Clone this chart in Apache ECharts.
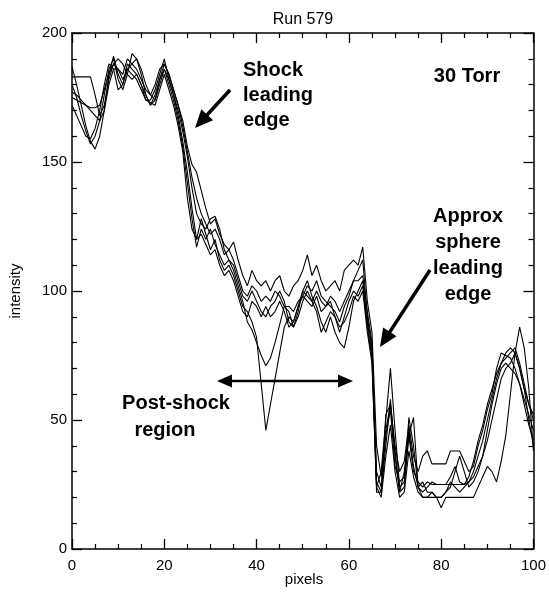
<!DOCTYPE html>
<html>
<head>
<meta charset="utf-8">
<script src="https://cdn.jsdelivr.net/npm/echarts@6/dist/echarts.min.js"></script>
<style>
html,body{margin:0;padding:0;background:#fff;}
#c{width:549px;height:592px;}
</style>
</head>
<body>
<div id="c"></div>
<script>
// pixel index 0..100
var pixels = [];
for (var i = 0; i <= 100; i++) pixels.push(i);

var xTicks = [0, 20, 40, 60, 80, 100];
var yTicks = [0, 50, 100, 150, 200];

var profile1 = [183,183,183,183,183,176,168,172,182,188, 186,184,190,188,186,182,178,176,180,186, 188,184,178,172,166,156,149,146,139,132, 126,128,122,118,116,119,112,106,102,108, 104,102,104,100,104,106,100,98,102,104, 108,114,106,110,104,100,102,104,100,108, 110,112,110,117,96,84,40,28,46,56, 40,30,34,48,36,30,36,38,33,33, 33,33,38,38,38,34,30,32,40,46, 54,60,70,76,75,74,70,64,58,52, 46];
var profile2 = [187,180,172,164,158,155,160,170,184,191, 184,180,186,184,182,178,174,174,178,184, 190,182,176,168,158,146,132,120,128,122, 116,120,112,108,110,106,100,94,92,88, 82,64,46,56,66,76,86,90,88,94, 100,98,96,100,96,94,98,96,92,96, 100,104,104,106,92,80,26,22,40,58, 36,22,30,46,32,24,26,22,22,20, 20,22,26,24,22,24,26,30,36,42, 50,58,66,72,74,76,78,72,64,56, 50];
var profile3 = [180,175,168,162,157,160,166,176,186,190, 182,178,184,192,190,184,176,172,176,182, 186,180,174,166,156,142,128,117,124,120, 124,118,114,110,112,108,102,96,88,85, 80,75,71,74,80,87,94,94,92,96, 98,102,100,104,98,96,94,92,88,94, 98,104,108,112,90,78,24,30,50,70, 46,24,26,51,40,24,22,24,26,25, 25,25,28,32,26,25,26,28,32,36, 42,50,58,66,70,72,76,70,62,56, 52];
var profile4 = [177,176,174,172,170,168,166,170,180,186, 186,182,186,188,190,186,180,176,174,182, 188,184,178,172,164,154,144,136,130,126, 122,124,120,114,116,112,106,100,98,102, 100,96,98,96,100,98,94,92,86,92, 100,104,98,94,88,84,90,84,80,78, 86,96,100,104,88,76,30,24,44,54, 32,26,28,44,30,26,24,26,25,25, 25,25,25,25,25,25,28,34,42,48, 56,62,68,72,76,78,76,70,62,50, 40];
var profile5 = [175,174,173,172,171,171,172,178,184,188, 190,188,184,182,184,180,176,172,174,180, 186,182,176,170,162,152,140,130,126,124, 128,129,124,116,112,110,104,98,96,100, 96,92,90,94,96,100,96,88,86,90, 96,100,96,92,84,88,92,90,84,90, 96,100,98,102,86,74,22,22,52,56, 38,22,24,44,51,24,20,20,20,20, 16,20,20,20,20,20,20,20,24,28, 32,30,26,34,44,60,76,86,78,62, 38];
var profile6 = [172,168,164,160,159,163,170,180,188,186, 178,180,188,186,184,180,174,173,172,178, 184,178,172,164,154,136,124,120,122,118, 114,116,110,106,108,104,98,92,90,96, 94,90,94,90,92,96,92,86,88,94, 98,96,94,98,92,94,96,90,86,88, 92,98,96,100,84,72,24,20,36,48, 30,20,22,38,28,22,20,20,22,20, 20,22,24,30,36,30,24,26,30,36, 46,56,64,70,72,70,68,64,56,48, 42];

var profiles = [profile1, profile2, profile3, profile4, profile5, profile6];

var FONT = 'Liberation Sans, Arial, Helvetica, sans-serif';

function arrow(x1, y1, x2, y2, w, hl, hw) {
  var dx = x2 - x1, dy = y2 - y1, L = Math.sqrt(dx*dx + dy*dy);
  var ux = dx / L, uy = dy / L, px = -uy, py = ux;
  var bx = x2 - ux * hl, by = y2 - uy * hl;
  return [
    {type:'line', shape:{x1:x1, y1:y1, x2:bx + ux*2, y2:by + uy*2}, style:{stroke:'#000', lineWidth:w}, z:10},
    {type:'polygon', shape:{points:[[x2,y2],[bx+px*hw,by+py*hw],[bx-px*hw,by-py*hw]]}, style:{fill:'#000'}, z:10}
  ];
}

function txt(x, y, s, size, align, weight) {
  return {type:'text', x:x, y:y, z:10, style:{text:s, font: (weight || 'normal') + ' ' + size + 'px ' + FONT, fill:'#000', textAlign:align || 'center', textVerticalAlign:'middle'}};
}

var chart = echarts.init(document.getElementById('c'), null, {renderer:'canvas'});

var axisCommon = {
  type:'value',
  axisLine:{show:true, onZero:false, lineStyle:{color:'#000', width:1.5}},
  axisTick:{show:true, inside:true, lineStyle:{color:'#000', width:1.3}},
  minorTick:{show:true, lineStyle:{color:'#000', width:1.2}},
  splitLine:{show:false}
};

var graphics = [];
graphics.push(txt(303, 20, 'Run 579', 16));
graphics.push(txt(304, 580, 'pixels', 15));
graphics.push({type:'text', x:16, y:291, rotation:Math.PI/2, z:10, style:{text:'intensity', font:'15px ' + FONT, fill:'#000', textAlign:'center', textVerticalAlign:'middle'}});
graphics.push(txt(243, 70, 'Shock', 20, 'left', 'bold'));
graphics.push(txt(243, 95, 'leading', 20, 'left', 'bold'));
graphics.push(txt(243, 120, 'edge', 20, 'left', 'bold'));
graphics.push(txt(467, 76, '30 Torr', 20, 'center', 'bold'));
graphics.push(txt(468, 216, 'Approx', 20, 'center', 'bold'));
graphics.push(txt(468, 242, 'sphere', 20, 'center', 'bold'));
graphics.push(txt(468, 268, 'leading', 20, 'center', 'bold'));
graphics.push(txt(468, 294, 'edge', 20, 'center', 'bold'));
graphics.push(txt(176, 403, 'Post-shock', 20, 'center', 'bold'));
graphics.push(txt(165, 430, 'region', 20, 'center', 'bold'));
graphics = graphics.concat(arrow(230, 90, 195, 128, 3.5, 18, 8));
graphics = graphics.concat(arrow(430, 270, 380, 347, 3.5, 18, 8));
graphics = graphics.concat(arrow(285, 381, 217, 381, 2.5, 15, 6.5));
graphics = graphics.concat(arrow(285, 381, 353, 381, 2.5, 15, 6.5));

var option = {
  animation:false,
  backgroundColor:'#fff',
  grid:{left:72, right:14, top:33, bottom:43, containLabel:false},
  xAxis:[
    Object.assign({}, axisCommon, {position:'bottom', min:xTicks[0], max:xTicks[xTicks.length-1], interval:20,
      axisTick:Object.assign({}, axisCommon.axisTick, {length:10}),
      minorTick:Object.assign({}, axisCommon.minorTick, {splitNumber:4, length:5}),
      axisLabel:{show:true, margin:9, fontSize:15, fontFamily:FONT, color:'#000'}}),
    Object.assign({}, axisCommon, {position:'top', min:xTicks[0], max:xTicks[xTicks.length-1], interval:20,
      axisTick:Object.assign({}, axisCommon.axisTick, {length:10}),
      minorTick:Object.assign({}, axisCommon.minorTick, {splitNumber:4, length:5}),
      axisLabel:{show:false}})
  ],
  yAxis:[
    Object.assign({}, axisCommon, {position:'left', min:yTicks[0], max:yTicks[yTicks.length-1], interval:50,
      axisTick:Object.assign({}, axisCommon.axisTick, {length:10}),
      minorTick:Object.assign({}, axisCommon.minorTick, {splitNumber:5, length:5}),
      axisLabel:{show:true, margin:5, fontSize:15, fontFamily:FONT, color:'#000'}}),
    Object.assign({}, axisCommon, {position:'right', min:yTicks[0], max:yTicks[yTicks.length-1], interval:50,
      axisTick:Object.assign({}, axisCommon.axisTick, {length:10}),
      minorTick:Object.assign({}, axisCommon.minorTick, {splitNumber:5, length:5}),
      axisLabel:{show:false}})
  ],
  series: profiles.map(function (p, k) {
    return {
      type:'line', name:'profile ' + (k+1), xAxisIndex:0, yAxisIndex:0,
      showSymbol:false, symbol:'none',
      lineStyle:{color:'#000', width:1.1},
      data: pixels.map(function (x, i) { return [x, p[i]]; })
    };
  }),
  graphic: graphics
};
chart.setOption(option);
</script>
</body>
</html>
